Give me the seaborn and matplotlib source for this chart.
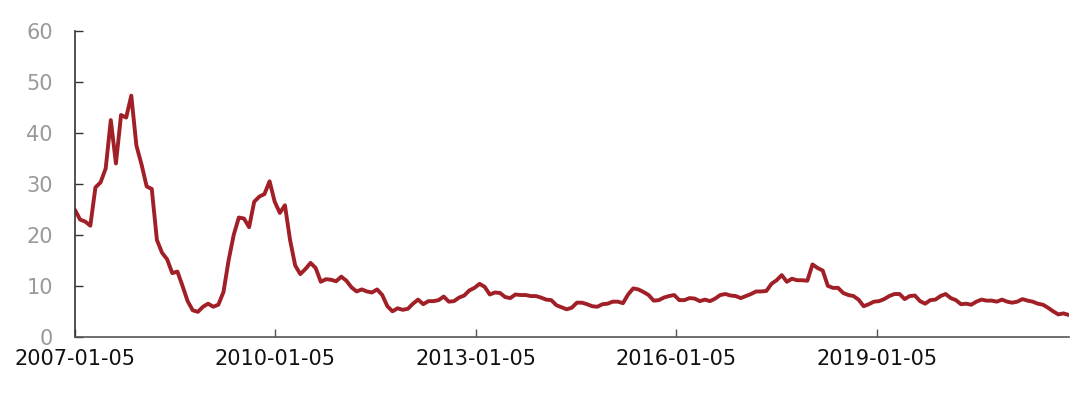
import pandas as pd
import numpy as np
import matplotlib
matplotlib.use("Agg")
import matplotlib.pyplot as plt
import seaborn as sns

# series, one value every 4 weeks from 2007-01-05
start_date = "2007-01-05"
step_days = 28
values = [
    24.9, 23.0, 22.6, 21.8, 29.3, 30.3, 33.0, 42.5, 34.0, 43.5,
    43.0, 47.3, 37.5, 33.8, 29.5, 29.0, 19.0, 16.5, 15.2, 12.5,
    12.8, 10.0, 7.0, 5.2, 4.9, 5.9, 6.5, 5.9, 6.3, 8.8,
    15.0, 20.0, 23.4, 23.2, 21.5, 26.5, 27.5, 28.0, 30.5, 26.5,
    24.3, 25.8, 19.0, 14.0, 12.3, 13.3, 14.5, 13.5, 10.8, 11.3,
    11.2, 10.9, 11.8, 11.0, 9.7, 8.9, 9.3, 8.9, 8.7, 9.3,
    8.2, 6.0, 5.0, 5.6, 5.3, 5.5, 6.5, 7.3, 6.4, 7.0,
    7.0, 7.2, 7.9, 6.9, 7.0, 7.7, 8.1, 9.1, 9.6, 10.4,
    9.8, 8.3, 8.7, 8.6, 7.8, 7.6, 8.3, 8.2, 8.2, 8.0,
    8.0, 7.7, 7.3, 7.2, 6.2, 5.8, 5.4, 5.7, 6.7, 6.7,
    6.4, 6.0, 5.9, 6.4, 6.5, 6.9, 6.9, 6.6, 8.3, 9.5,
    9.3, 8.8, 8.2, 7.1, 7.2, 7.7, 8.0, 8.2, 7.2, 7.2,
    7.6, 7.5, 7.0, 7.3, 7.0, 7.5, 8.2, 8.4, 8.1, 8.0,
    7.6, 8.0, 8.4, 8.9, 8.9, 9.0, 10.4, 11.1, 12.1, 10.8,
    11.4, 11.1, 11.1, 11.0, 14.2, 13.5, 13.0, 10.0, 9.6, 9.6,
    8.6, 8.2, 8.0, 7.3, 6.0, 6.4, 6.9, 7.0, 7.4, 8.0,
    8.4, 8.4, 7.4, 8.0, 8.1, 7.0, 6.5, 7.2, 7.3, 8.0,
    8.4, 7.6, 7.2, 6.4, 6.5, 6.3, 6.9, 7.3, 7.1, 7.1,
    6.9, 7.3, 6.9, 6.7, 6.9, 7.4, 7.1, 6.9, 6.5, 6.3,
    5.7, 5.0, 4.4, 4.6, 4.3,
]
x_ticks = ["2007-01-05", "2010-01-05", "2013-01-05", "2016-01-05", "2019-01-05"]
y_ticks = [0, 10, 20, 30, 40, 50, 60]

dates = pd.date_range(start_date, periods=len(values), freq=f"{step_days}D")
df = pd.DataFrame({"date": dates, "value": values})

sns.set_style("white")
plt.rcParams["font.family"] = ["DejaVu Sans"]

fig = plt.figure(figsize=(10.8, 4.01), dpi=100)
ax = fig.add_axes([0.0694, 0.16, 0.920, 0.763])

sns.lineplot(data=df, x="date", y="value", ax=ax, color="#A11F26", linewidth=2.8)

ax.set_xlim(dates[0], dates[-1])
ax.set_ylim(0, 60)
ax.set_yticks(y_ticks)
ax.set_yticklabels([str(v) for v in y_ticks])
ax.set_xticks(pd.to_datetime(x_ticks))
ax.set_xticklabels(x_ticks)
ax.set_xlabel("")
ax.set_ylabel("")

for s in ["top", "right"]:
    ax.spines[s].set_visible(False)
ax.spines["left"].set_color("#333333")
ax.spines["bottom"].set_color("#555555")
ax.spines["left"].set_linewidth(1.2)
ax.spines["bottom"].set_linewidth(1.2)

ax.tick_params(axis="y", direction="in", length=6, width=1, color="#333333",
               labelsize=15, labelcolor="#999999", pad=16, left=True)
ax.tick_params(axis="x", direction="in", length=6, width=1, color="#555555",
               labelsize=15, labelcolor="#111111", pad=9, bottom=True)

plt.savefig("out.png", dpi=100)
plt.close()
